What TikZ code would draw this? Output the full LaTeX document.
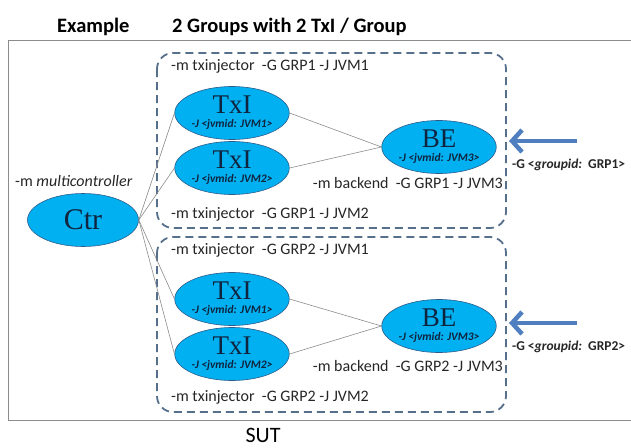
\documentclass[tikz,border=0pt]{standalone}
\usepackage{fontspec}
\setmainfont{Carlito}
\newfontfamily\timesfont{Liberation Serif}
\usetikzlibrary{shapes.geometric,arrows.meta}
\definecolor{procblue}{HTML}{00B0F0}
\definecolor{procline}{HTML}{2E5C8A}
\definecolor{procink}{HTML}{10243F}
\definecolor{grpdash}{HTML}{56708C}
\definecolor{grparrow}{HTML}{4F7FC0}
\definecolor{linkgray}{HTML}{8C8C8C}

\newcommand{\procname}[2]{{\timesfont\fontsize{27}{27}\selectfont #1}\\[2pt]{\fontsize{11.5}{12}\selectfont\bfseries\itshape -J <jvmid: #2>}}

\begin{document}
\begin{tikzpicture}[x=1pt,y=-1pt,
	proc/.style={ellipse,draw=procline,line width=0.6pt,fill=procblue,text=procink,
		minimum width=111pt,minimum height=53pt,inner sep=0pt,align=center},
	lbl/.style={anchor=base west,inner sep=0pt,text=black!85,font=\fontsize{16}{16}\selectfont},
	link/.style={draw=linkgray,line width=0.6pt},
	grpbox/.style={draw=grpdash,line width=1.8pt,dash pattern=on 8pt off 5pt,rounded corners=16pt},
	grparrow/.style={draw=grparrow,line width=4.5pt,-{Straight Barb[length=10pt,width=22pt]}}]
	\useasboundingbox (0,0) rectangle (631,447);
	
	\node[anchor=base west,inner sep=0pt,font=\fontsize{20.5}{21}\selectfont\bfseries] (ttl) at (57,32) {Example};
	\node[anchor=base west,inner sep=0pt,font=\fontsize{20.5}{21}\selectfont\bfseries] (sub) at (172,32) {2 Groups with 2 TxI / Group};
	
	\draw[draw=black!45,line width=0.8pt] (632,40) -- (8,40) -- (8,420) -- (632,420);
	\node[anchor=base,inner sep=0pt,font=\fontsize{22}{22}\selectfont] (sut) at (263,442) {SUT};
	
	\draw[grpbox] (157,53) rectangle (506,228);
	\draw[grpbox] (157,237) rectangle (506,412);
	
	\node[proc] (ctr) at (83,220) {{\timesfont\fontsize{30}{30}\selectfont Ctr}};
	\node[proc] (txa) at (232,113) {\procname{TxI}{JVM1}};
	\node[proc] (txb) at (232,168) {\procname{TxI}{JVM2}};
	\node[proc] (bea) at (439,147) {\procname{BE}{JVM3}};
	\node[proc] (txc) at (232,299) {\procname{TxI}{JVM1}};
	\node[proc] (txd) at (232,354) {\procname{TxI}{JVM2}};
	\node[proc] (beb) at (439,326) {\procname{BE}{JVM3}};
	
	\draw[link] (ctr.east) -- (txa.west);
	\draw[link] (ctr.east) -- (txb.west);
	\draw[link] (ctr.east) -- (txc.west);
	\draw[link] (ctr.east) -- (txd.west);
	\draw[link] (txa.east) -- (bea.west);
	\draw[link] (txb.east) -- (bea.west);
	\draw[link] (txc.east) -- (beb.west);
	\draw[link] (txd.east) -- (beb.west);
	
	\node[lbl] (mc) at (15,186) {-m \textit{multicontroller}};
	\node[lbl] (la) at (171,70) {-m txinjector\ \ -G GRP1 -J JVM1};
	\node[lbl] (lb) at (171,218) {-m txinjector\ \ -G GRP1 -J JVM2};
	\node[lbl,anchor=base east] (lbe) at (503,188) {-m backend\ \ -G GRP1 -J JVM3};
	\node[lbl] (lc) at (171,254) {-m txinjector\ \ -G GRP2 -J JVM1};
	\node[lbl] (ld) at (171,401) {-m txinjector\ \ -G GRP2 -J JVM2};
	\node[lbl,anchor=base east] (lbf) at (503,371) {-m backend\ \ -G GRP2 -J JVM3};
	
	\coordinate (taila) at (577,141);
	\coordinate (tipa) at (509,141);
	\coordinate (tailb) at (577,323);
	\coordinate (tipb) at (509,323);
	\draw[grparrow] (taila) -- (tipa);
	\draw[grparrow] (tailb) -- (tipb);
	\node[anchor=base west,inner sep=0pt,font=\fontsize{13.5}{14}\selectfont\bfseries,text=black!85] (gida) at (512,168) {-G <\textit{groupid:}\ \ GRP1>};
	\node[anchor=base west,inner sep=0pt,font=\fontsize{13.5}{14}\selectfont\bfseries,text=black!85] (gidb) at (512,350) {-G <\textit{groupid:}\ \ GRP2>};
\end{tikzpicture}
\end{document}
